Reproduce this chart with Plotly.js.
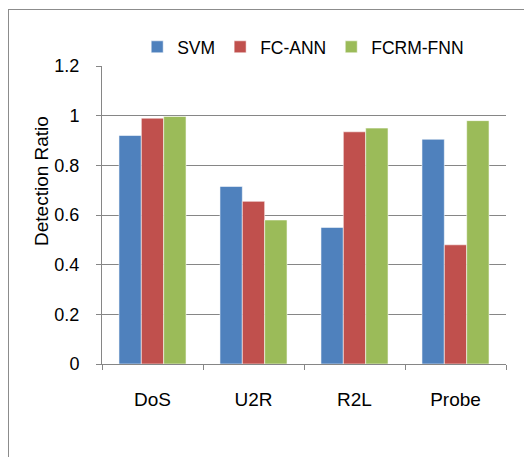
<!DOCTYPE html>
<html>
<head>
<meta charset="utf-8">
<script src="https://cdn.plot.ly/plotly-3.0.1.min.js"></script>
<style>
html,body{margin:0;padding:0;background:#fff;}
#wrap{position:relative;width:524px;height:457px;overflow:hidden;}
#chart{position:absolute;left:0;top:0;width:524px;height:457px;}
#frame{position:absolute;left:8px;top:9px;width:540px;height:480px;border:1px solid #8c8c8c;pointer-events:none;}
</style>
</head>
<body>
<div id="wrap"><div id="chart"></div><div id="frame"></div></div>
<script>
const categories = ["DoS", "U2R", "R2L", "Probe"];
const seriesNames = ["SVM", "FC-ANN", "FCRM-FNN"];
const svm = [0.92, 0.715, 0.55, 0.905];
const fcAnn = [0.99, 0.655, 0.935, 0.48];
const fcrmFnn = [0.997, 0.58, 0.95, 0.98];
const colors = ["#4F81BD", "#C0504D", "#9BBB59"];
const yTicks = [0, 0.2, 0.4, 0.6, 0.8, 1, 1.2];
const yTickText = ["0", "0.2", "0.4", "0.6", "0.8", "1", "1.2"];

const values = [svm, fcAnn, fcrmFnn];
const traces = seriesNames.map((n, i) => ({
  type: "bar",
  name: n,
  x: categories,
  y: values[i],
  marker: {color: colors[i], line: {color: "rgba(255,255,255,0.55)", width: 1}},
  hoverinfo: "x+y+name"
}));

const font = "'Liberation Sans', Arial, sans-serif";
const layout = {
  width: 524, height: 457,
  margin: {l: 102, r: 18, t: 66, b: 93},
  paper_bgcolor: "#fff", plot_bgcolor: "#fff",
  barmode: "group", bargap: 0.336, bargroupgap: 0,
  font: {family: font, size: 18, color: "#000"},
  showlegend: true,
  legend: {orientation: "h", x: 0.498, xanchor: "center", y: 1.064, yanchor: "middle",
           font: {family: font, size: 17.5, color: "#000"}, itemwidth: 30, traceorder: "normal",
           bgcolor: "rgba(0,0,0,0)"},
  xaxis: {
    type: "category", showline: true, linecolor: "#868686", linewidth: 1,
    ticks: "outside", tickson: "boundaries", ticklen: 5, tickcolor: "#868686",
    showgrid: false, ticklabelstandoff: 18,
    tickfont: {family: font, size: 19, color: "#000"}
  },
  yaxis: {
    range: [0, 1.2], tickvals: yTicks, ticktext: yTickText,
    showline: true, linecolor: "#868686", linewidth: 1,
    ticks: "outside", ticklen: 5, tickcolor: "#868686",
    showgrid: true, gridcolor: "#868686", gridwidth: 1, zeroline: false,
    ticklabelstandoff: 13,
    tickfont: {family: font, size: 18, color: "#000"}
  },
  annotations: [{
    text: "Detection Ratio", textangle: -90, xref: "paper", yref: "paper",
    x: (41 - 102) / 404, y: (364 - 181) / 298, xanchor: "center", yanchor: "middle",
    showarrow: false, font: {family: font, size: 19, color: "#000"}
  }]
};
Plotly.newPlot("chart", traces, layout, {displayModeBar: false, staticPlot: true});
</script>
</body>
</html>
